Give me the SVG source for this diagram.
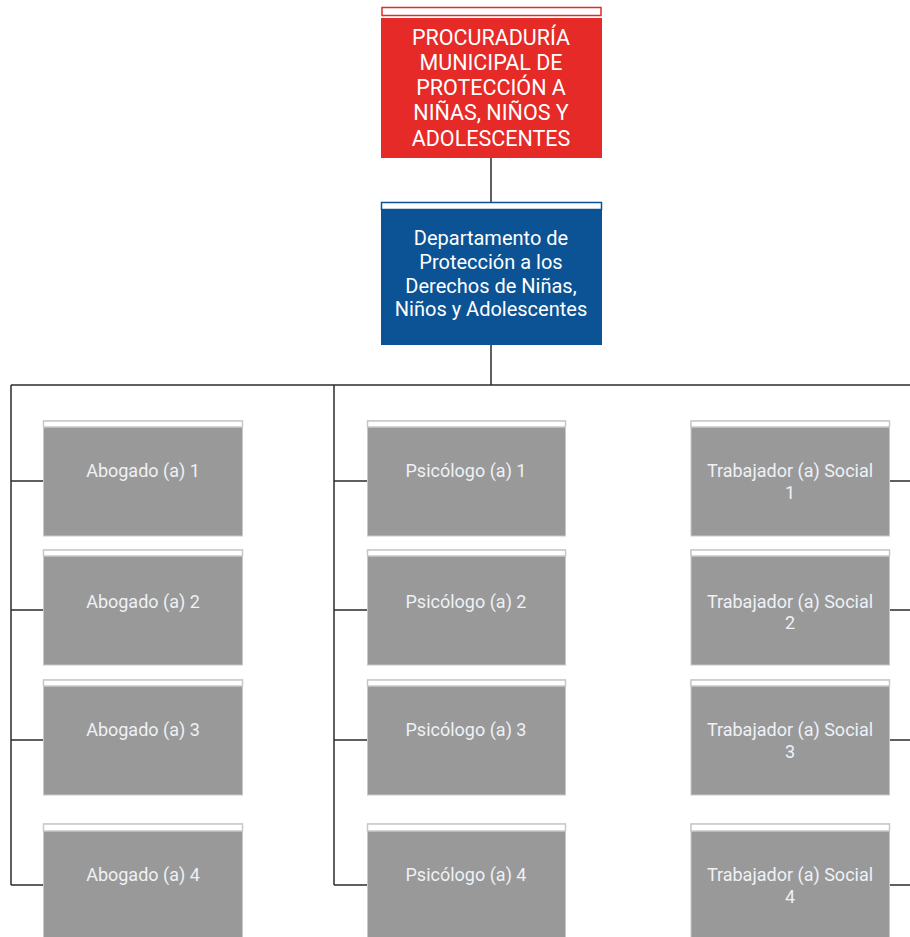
<svg xmlns="http://www.w3.org/2000/svg" width="910" height="937" viewBox="0 0 910 937">
  <style>
    .wire { fill: none; stroke: #2b2b2b; stroke-width: 1.5; }
    .strip-red { fill: #ffffff; stroke: #e52a27; stroke-width: 1.5; }
    .strip-blue { fill: #ffffff; stroke: #0b5394; stroke-width: 1.5; }
    .strip-gray { fill: #ffffff; stroke: #c8c8c8; stroke-width: 1.5; }
    .body-red { fill: #e52a27; }
    .body-blue { fill: #0b5394; }
    .body-gray { fill: #999999; stroke: #c8c8c8; stroke-width: 1; }
    text { font-family: Roboto, "Liberation Sans", sans-serif; text-anchor: middle; fill: #ffffff; }
    .t-red { font-size: 21.5px; }
    .t-blue { font-size: 20px; }
    .t-gray { font-size: 18px; fill: #eef1f6; }
  </style>

  <!-- connectors -->
  <g id="connectors">
    <path class="wire" d="M491 158 V203"/>
    <path class="wire" d="M491 345 V385"/>
    <path class="wire" d="M11 385 H910"/>
    <path class="wire" d="M11 385 V885"/>
    <path class="wire" d="M334 385 V885"/>
    <path class="wire" d="M11 481 H43 M11 610 H43 M11 740 H43 M11 885 H43"/>
    <path class="wire" d="M334 481 H367 M334 610 H367 M334 740 H367 M334 885 H367"/>
    <path class="wire" d="M890 481 H910 M890 610 H910 M890 740 H910 M890 885 H910"/>
  </g>

  <!-- top: procuraduría -->
  <g id="procuraduria">
    <rect class="strip-red" x="382" y="7.5" width="219" height="8"/>
    <rect class="body-red" x="381" y="18" width="221" height="140"/>
    <text class="t-red" x="491" y="45">PROCURADURÍA</text>
    <text class="t-red" x="491" y="70">MUNICIPAL DE</text>
    <text class="t-red" x="491" y="95">PROTECCIÓN A</text>
    <text class="t-red" x="491" y="120">NIÑAS, NIÑOS Y</text>
    <text class="t-red" x="491" y="146">ADOLESCENTES</text>
  </g>

  <!-- department -->
  <g id="departamento">
    <rect class="body-blue" x="381" y="202" width="221" height="143"/>
    <rect class="strip-blue" x="381.5" y="202.5" width="220" height="7"/>
    <text class="t-blue" x="491" y="245">Departamento de</text>
    <text class="t-blue" x="491" y="269">Protección a los</text>
    <text class="t-blue" x="491" y="293">Derechos de Niñas,</text>
    <text class="t-blue" x="491" y="316">Niños y Adolescentes</text>
  </g>

  <!-- lawyers -->
  <g id="abogado-1">
    <rect class="body-gray" x="43.5" y="421" width="199" height="115"/>
    <rect class="strip-gray" x="43.5" y="421" width="199" height="6"/>
    <text class="t-gray" x="143" y="477">Abogado (a) 1</text>
  </g>
  <g id="abogado-2">
    <rect class="body-gray" x="43.5" y="550" width="199" height="115"/>
    <rect class="strip-gray" x="43.5" y="550" width="199" height="6"/>
    <text class="t-gray" x="143" y="608">Abogado (a) 2</text>
  </g>
  <g id="abogado-3">
    <rect class="body-gray" x="43.5" y="680" width="199" height="115"/>
    <rect class="strip-gray" x="43.5" y="680" width="199" height="6"/>
    <text class="t-gray" x="143" y="736">Abogado (a) 3</text>
  </g>
  <g id="abogado-4">
    <rect class="body-gray" x="43.5" y="824" width="199" height="120"/>
    <rect class="strip-gray" x="43.5" y="824" width="199" height="7"/>
    <text class="t-gray" x="143" y="881">Abogado (a) 4</text>
  </g>

  <!-- psychologists -->
  <g id="psicologo-1">
    <rect class="body-gray" x="367.5" y="421" width="198" height="115"/>
    <rect class="strip-gray" x="367.5" y="421" width="198" height="6"/>
    <text class="t-gray" x="466" y="477">Psicólogo (a) 1</text>
  </g>
  <g id="psicologo-2">
    <rect class="body-gray" x="367.5" y="550" width="198" height="115"/>
    <rect class="strip-gray" x="367.5" y="550" width="198" height="6"/>
    <text class="t-gray" x="466" y="608">Psicólogo (a) 2</text>
  </g>
  <g id="psicologo-3">
    <rect class="body-gray" x="367.5" y="680" width="198" height="115"/>
    <rect class="strip-gray" x="367.5" y="680" width="198" height="6"/>
    <text class="t-gray" x="466" y="736">Psicólogo (a) 3</text>
  </g>
  <g id="psicologo-4">
    <rect class="body-gray" x="367.5" y="824" width="198" height="120"/>
    <rect class="strip-gray" x="367.5" y="824" width="198" height="7"/>
    <text class="t-gray" x="466" y="881">Psicólogo (a) 4</text>
  </g>

  <!-- social workers -->
  <g id="trabajador-1">
    <rect class="body-gray" x="691" y="421" width="198.5" height="115"/>
    <rect class="strip-gray" x="691" y="421" width="198.5" height="6"/>
    <text class="t-gray" x="790" y="477">Trabajador (a) Social</text>
    <text class="t-gray" x="790" y="499">1</text>
  </g>
  <g id="trabajador-2">
    <rect class="body-gray" x="691" y="550" width="198.5" height="115"/>
    <rect class="strip-gray" x="691" y="550" width="198.5" height="6"/>
    <text class="t-gray" x="790" y="608">Trabajador (a) Social</text>
    <text class="t-gray" x="790" y="629">2</text>
  </g>
  <g id="trabajador-3">
    <rect class="body-gray" x="691" y="680" width="198.5" height="115"/>
    <rect class="strip-gray" x="691" y="680" width="198.5" height="6"/>
    <text class="t-gray" x="790" y="736">Trabajador (a) Social</text>
    <text class="t-gray" x="790" y="758">3</text>
  </g>
  <g id="trabajador-4">
    <rect class="body-gray" x="691" y="824" width="198.5" height="120"/>
    <rect class="strip-gray" x="691" y="824" width="198.5" height="7"/>
    <text class="t-gray" x="790" y="881">Trabajador (a) Social</text>
    <text class="t-gray" x="790" y="903">4</text>
  </g>
</svg>
